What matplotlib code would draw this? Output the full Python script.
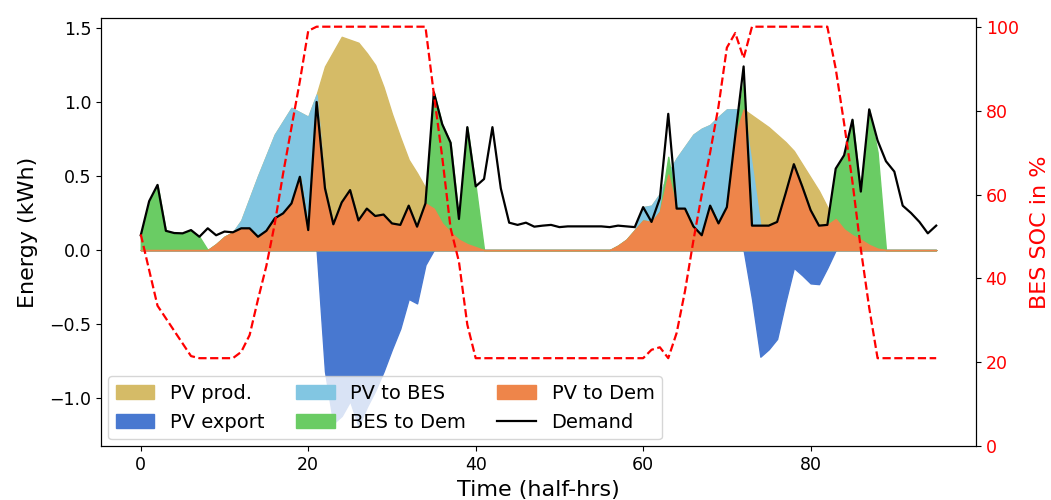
import numpy as np
import matplotlib
matplotlib.use("Agg")
import matplotlib.pyplot as plt

# half-hour steps 0..95
time = np.arange(96)

demand = [0.10, 0.33, 0.44, 0.13, 0.115, 0.113, 0.135, 0.09, 0.147, 0.10,
          0.125, 0.12, 0.147, 0.147, 0.09, 0.13, 0.214, 0.248, 0.315, 0.495,
          0.135, 1.00, 0.417, 0.174, 0.322, 0.405, 0.20, 0.28, 0.23, 0.24,
          0.18, 0.17, 0.30, 0.158, 0.315, 1.065, 0.85, 0.725, 0.21, 0.83,
          0.43, 0.48, 0.83, 0.417, 0.185, 0.17, 0.185, 0.158, 0.165, 0.17,
          0.155, 0.16, 0.16, 0.16, 0.16, 0.16, 0.155, 0.165, 0.16, 0.155,
          0.29, 0.19, 0.35, 0.92, 0.28, 0.28, 0.16, 0.10, 0.30, 0.18,
          0.29, 0.77, 1.24, 0.165, 0.165, 0.165, 0.19, 0.38, 0.58, 0.43,
          0.27, 0.165, 0.17, 0.55, 0.64, 0.88, 0.395, 0.95, 0.74, 0.60,
          0.53, 0.30, 0.25, 0.19, 0.113, 0.165]

pv_prod = [0, 0, 0, 0, 0, 0, 0, 0, 0, 0.04,
           0.09, 0.12, 0.20, 0.35, 0.50, 0.64, 0.78, 0.87, 0.96, 0.93,
           0.90, 1.05, 1.24, 1.34, 1.44, 1.42, 1.40, 1.33, 1.25, 1.10,
           0.92, 0.76, 0.61, 0.52, 0.42, 0.28, 0.18, 0.12, 0.07, 0.04,
           0.02, 0, 0, 0, 0, 0, 0, 0, 0, 0,
           0, 0, 0, 0, 0, 0, 0, 0.03, 0.07, 0.135,
           0.29, 0.30, 0.38, 0.52, 0.62, 0.70, 0.78, 0.82, 0.845, 0.90,
           0.95, 0.95, 0.95, 0.91, 0.87, 0.83, 0.78, 0.73, 0.67, 0.58,
           0.49, 0.40, 0.29, 0.21, 0.14, 0.10, 0.07, 0.035, 0.01, 0,
           0, 0, 0, 0, 0, 0]

pv_export = [0] * 22 + [0.82, 1.17, 1.12, 1.02, 1.19, 1.06, 0.95, 0.82,
                        0.67, 0.53, 0.33, 0.36, 0.10] + [0] * 38 + \
            [0.33, 0.72, 0.67, 0.60, 0.35, 0.12, 0.17, 0.225, 0.23, 0.12] + [0] * 13

pv_to_bes = [0] * 12 + [0.053, 0.203, 0.41, 0.51, 0.566, 0.622, 0.645, 0.435,
                        0.765, 0.05] + [0] * 38 + \
            [0.09, 0.11, 0.12, 0.01, 0.34, 0.42, 0.62, 0.72, 0.545, 0.72,
             0.66, 0.18, 0, 0.40] + [0] * 22

bes_to_dem = [0.10, 0.33, 0.44, 0.13, 0.115, 0.113, 0.135, 0.09] + [0] * 27 + \
             [0.785, 0.67, 0.605, 0.14, 0.79, 0.41] + [0] * 22 + [0.12] + \
             [0] * 8 + [0.20] + [0] * 10 + \
             [0.34, 0.50, 0.78, 0.325, 0.915, 0.65] + [0] * 7

pv_to_dem = [0, 0, 0, 0, 0, 0, 0, 0, 0, 0.04,
             0.09, 0.12, 0.147, 0.147, 0.09, 0.13, 0.214, 0.248, 0.315, 0.495,
             0.135, 1.00, 0.417, 0.174, 0.322, 0.405, 0.20, 0.28, 0.23, 0.24,
             0.18, 0.17, 0.30, 0.158, 0.315, 0.28, 0.18, 0.12, 0.07, 0.04,
             0.02, 0, 0, 0, 0, 0, 0, 0, 0, 0,
             0, 0, 0, 0, 0, 0, 0, 0.03, 0.07, 0.135,
             0.20, 0.19, 0.26, 0.51, 0.28, 0.28, 0.16, 0.10, 0.30, 0.18,
             0.29, 0.77, 0.95, 0.165, 0.165, 0.165, 0.19, 0.38, 0.58, 0.43,
             0.27, 0.165, 0.17, 0.21, 0.14, 0.10, 0.07, 0.035, 0.01, 0,
             0, 0, 0, 0, 0, 0]

bes_soc = [50.5, 42, 33.5, 30.5, 27.5, 24.5, 21.5, 21, 21, 21,
           21, 21, 22.5, 26.5, 35, 43, 53, 65, 76, 87,
           99, 100, 100, 100, 100, 100, 100, 100, 100, 100,
           100, 100, 100, 100, 100, 84, 69, 52, 44, 29,
           21, 21, 21, 21, 21, 21, 21, 21, 21, 21,
           21, 21, 21, 21, 21, 21, 21, 21, 21, 21,
           21, 23, 23.6, 21, 27, 37, 49, 60, 70, 81,
           95, 98.5, 92.5, 100, 100, 100, 100, 100, 100, 100,
           100, 100, 100, 90, 77, 63, 47, 33, 21, 21,
           21, 21, 21, 21, 21, 21]

colors = {"prod": "#d5bb67", "export": "#4878d0", "bes": "#82c6e2",
          "besdem": "#6acc64", "pvdem": "#ee854a"}

pv_dem_arr = np.array(pv_to_dem)

fig = plt.figure(figsize=(10.51, 5), dpi=100)
ax = fig.add_axes([0.0961, 0.1074, 0.8325, 0.856])

ax.fill_between(time, 0, pv_prod, color=colors["prod"], label="PV prod.")
ax.fill_between(time, 0, -np.array(pv_export), color=colors["export"], label="PV export")
ax.fill_between(time, 0, pv_dem_arr + np.array(pv_to_bes), color=colors["bes"], label="PV to BES")
ax.fill_between(time, 0, pv_dem_arr + np.array(bes_to_dem), color=colors["besdem"], label="BES to Dem")
ax.fill_between(time, 0, pv_dem_arr, color=colors["pvdem"], label="PV to Dem")
ax.plot(time, demand, color="black", lw=1.6, label="Demand")

ax.set_ylim(-1.325, 1.565)
ax.set_xlabel("Time (half-hrs)", fontsize=16)
ax.set_ylabel("Energy (kWh)", fontsize=16, labelpad=8)
ax.tick_params(labelsize=12.5)
ax.legend(ncol=3, loc="lower left", fontsize=14, borderaxespad=0.35,
          columnspacing=1.6)

ax2 = ax.twinx()
ax2.plot(time, bes_soc, color="red", ls="--", lw=1.6)
ax2.set_ylim(0, 102)
ax2.set_ylabel("BES SOC in %", color="red", fontsize=16, labelpad=8)
ax2.tick_params(axis="y", labelsize=12.5, labelcolor="red")

fig.savefig("out.png", dpi=100)
